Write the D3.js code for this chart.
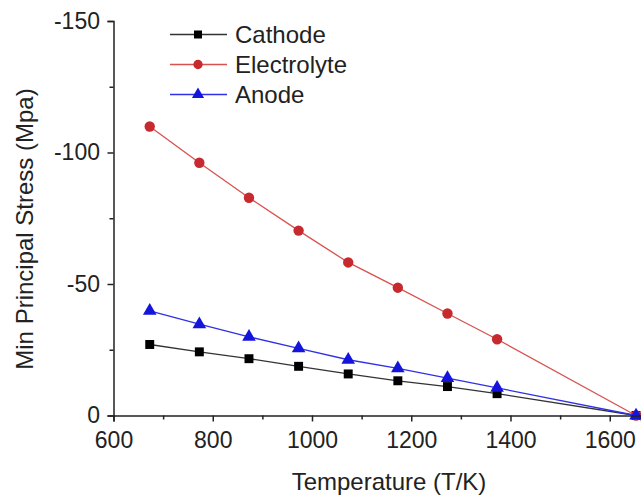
<!DOCTYPE html>
<html>
<head>
<meta charset="utf-8">
<script src="https://cdn.jsdelivr.net/npm/d3@7"></script>
<style>
  body { margin: 0; background: #fff; }
  text { font-family: "Liberation Sans", Arial, sans-serif; fill: #222; }
</style>
</head>
<body>
<div id="chart"></div>
<script>
// Temperatura (K)
const temps = [673, 773, 873, 973, 1073, 1173, 1273, 1373, 1653];
// Tensión principal mínima (MPa) por capa
const cathode = [-27.0, -24.2, -21.6, -18.7, -15.8, -13.2, -11.0, -8.3, 0];
const electrolyte = [-109.9, -96.1, -82.8, -70.3, -58.2, -48.6, -38.8, -29.0, 0];
const anode = [-39.8, -34.7, -29.9, -25.5, -21.2, -17.9, -14.2, -10.5, 0];
const xTicks = [600, 800, 1000, 1200, 1400, 1600];
const yTicks = [-150, -100, -50, 0];

const series = [
    { name: "Cathode", values: cathode, line: "#333", fill: "#000", shape: d3.symbolSquare, size: 80 },
    { name: "Electrolyte", values: electrolyte, line: "#d8524f", fill: "#c62a2e", shape: d3.symbolCircle, size: 85 },
    { name: "Anode", values: anode, line: "#3030e8", fill: "#1414dc", shape: d3.symbolTriangle, size: 80 }
];

const W = 641, H = 497;
const margin = { top: 21, right: 0, bottom: 81.5, left: 113.5 };
const fmt = d => String(d);  // guion normal, no signo menos tipográfico

const svg = d3.select("#chart").append("svg")
    .attr("width", W).attr("height", H);

const x = d3.scaleLinear().domain([600, 1663]).range([margin.left, W - margin.right]);
const y = d3.scaleLinear().domain([0, -150]).range([H - margin.bottom, margin.top]);

// Líneas y marcadores
const line = d3.line().x((d, i) => x(temps[i])).y(d => y(d));
series.forEach(s => {
    svg.append("path")
        .datum(s.values)
        .attr("d", line)
        .attr("fill", "none")
        .attr("stroke", s.line)
        .attr("stroke-width", 1.3);
    svg.selectAll(null)
        .data(s.values)
        .enter()
        .append("path")
        .attr("d", d3.symbol().type(s.shape).size(s.size))
        .attr("transform", (d, i) => `translate(${x(temps[i])},${y(d)})`)
        .attr("fill", s.fill);
});

// Ejes
svg.append("g")
    .attr("transform", `translate(0,${y(0)})`)
    .call(d3.axisBottom(x).tickValues(xTicks).tickFormat(fmt).tickSize(6).tickPadding(10.5));
svg.append("g")
    .attr("transform", `translate(0,${y(0)})`)
    .call(d3.axisBottom(x).tickValues(d3.range(700, 1700, 200)).tickFormat("").tickSize(4))
    .select(".domain").remove();
svg.append("g")
    .attr("transform", `translate(${x(600)},0)`)
    .call(d3.axisLeft(y).tickValues(yTicks).tickFormat(fmt).tickSize(6).tickPadding(7.5));
svg.append("g")
    .attr("transform", `translate(${x(600)},0)`)
    .call(d3.axisLeft(y).tickValues([-125, -75, -25]).tickFormat("").tickSize(4))
    .select(".domain").remove();

svg.selectAll(".tick text").style("font-size", "23px").style("font-family", "Liberation Sans, Arial, sans-serif").attr("fill", "#222");
svg.selectAll(".domain, .tick line").attr("stroke", "#222").attr("stroke-width", 1.5);

// Títulos de ejes
svg.append("text")
    .attr("x", 389)
    .attr("y", 490)
    .attr("text-anchor", "middle")
    .style("font-size", "24px")
    .text("Temperature (T/K)");
svg.append("text")
    .attr("transform", `translate(33,229) rotate(-90)`)
    .attr("text-anchor", "middle")
    .style("font-size", "24px")
    .text("Min Principal Stress (Mpa)");

// Leyenda
const legend = svg.append("g").attr("transform", "translate(170,34.5)");
series.forEach((s, i) => {
    const g = legend.append("g").attr("transform", `translate(0,${i * 30})`);
    g.append("line").attr("x1", 0).attr("x2", 57).attr("y1", 0).attr("y2", 0)
        .attr("stroke", s.line).attr("stroke-width", 1.3);
    g.append("path").attr("d", d3.symbol().type(s.shape).size(s.size * 0.8))
        .attr("transform", "translate(28,0)").attr("fill", s.fill);
    g.append("text").attr("x", 65).attr("y", 8.5)
        .style("font-size", "24px").text(s.name);
});
</script>
</body>
</html>
